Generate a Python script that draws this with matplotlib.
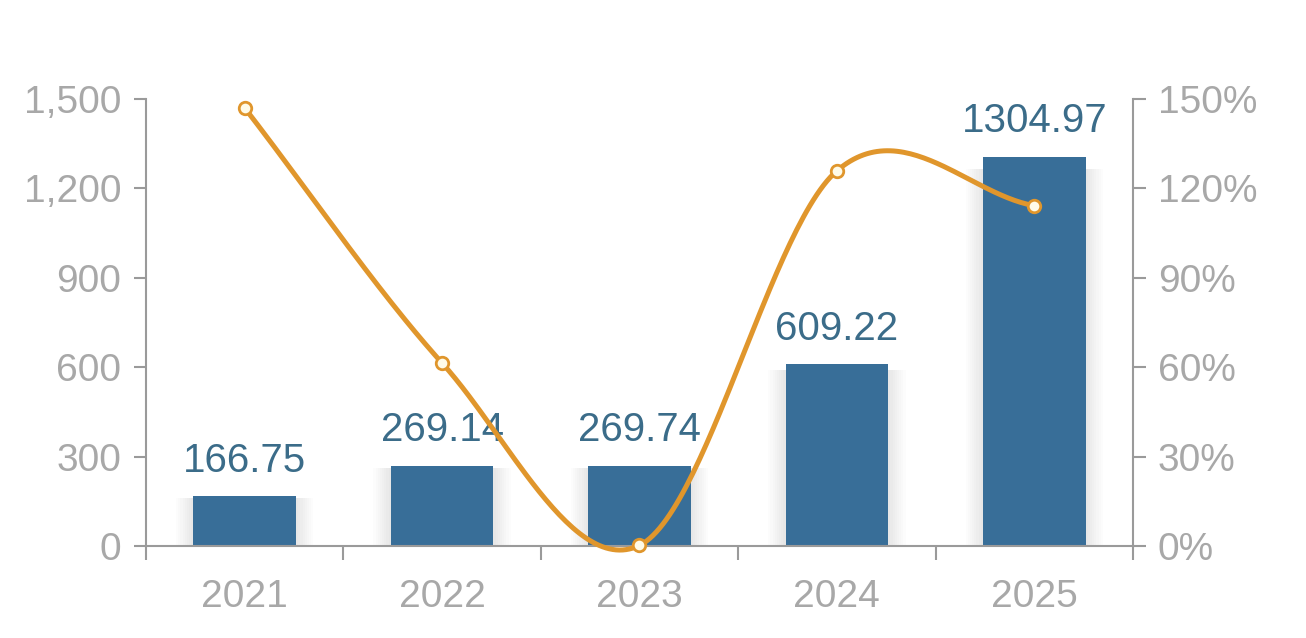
import numpy as np
import matplotlib.pyplot as plt

plt.rcParams['font.family'] = ['Liberation Sans', 'DejaVu Sans']

years = ['2021', '2022', '2023', '2024', '2025']
values = [166.75, 269.14, 269.74, 609.22, 1304.97]
growth = [147.0, 61.4, 0.2, 125.9, 114.2]

left_ticks = [0, 300, 600, 900, 1200, 1500]
right_ticks = [0, 30, 60, 90, 120, 150]

bar_color = '#386e98'
line_color = '#e0962c'
label_color = '#3b6c89'
axis_color = '#9a9a9a'
tick_text = '#a8a8a8'


def catmull_rom(xs, ys, n=60):
    # smooth curve through the points (cardinal spline, one-sided end tangents)
    xs = np.asarray(xs, float)
    ys = np.asarray(ys, float)
    m = np.zeros_like(ys)
    m[1:-1] = (ys[2:] - ys[:-2]) / (xs[2:] - xs[:-2])
    m[0] = (ys[1] - ys[0]) / (xs[1] - xs[0])
    m[-1] = (ys[-1] - ys[-2]) / (xs[-1] - xs[-2])
    out_x, out_y = [], []
    for i in range(len(xs) - 1):
        t = np.linspace(0, 1, n)
        h = xs[i + 1] - xs[i]
        h00 = 2 * t**3 - 3 * t**2 + 1
        h10 = t**3 - 2 * t**2 + t
        h01 = -2 * t**3 + 3 * t**2
        h11 = t**3 - t**2
        out_x.append(xs[i] + t * h)
        out_y.append(h00 * ys[i] + h10 * h * m[i] + h01 * ys[i + 1] + h11 * h * m[i + 1])
    return np.concatenate(out_x), np.concatenate(out_y)


fig = plt.figure(figsize=(13.06, 6.38), dpi=100)
ax = fig.add_axes([0.1118, 0.1442, 0.7557, 0.7006])
x = np.arange(len(years))

# soft shadow beside the bars
for k in range(1, 9):
    ax.bar(x, [v * 0.97 for v in values], width=0.52 + 0.022 * k,
           color='#000000', alpha=0.012, zorder=1, linewidth=0)
ax.bar(x, values, width=0.52, color=bar_color, zorder=2)

for xi, v in zip(x, values):
    ax.annotate(f'{v:.2f}', (xi, v), xytext=(0, 12), textcoords='offset points',
                ha='center', va='bottom', fontsize=29, color=label_color, zorder=3)

ax.set_xlim(-0.5, 4.5)
ax.set_ylim(0, 1500)
ax.set_yticks(left_ticks)
ax.set_yticklabels([f'{t:,}' for t in left_ticks])
ax.set_xticks(x)
ax.set_xticklabels(years)
ax.set_xticks(np.arange(-0.5, 5, 1), minor=True)
ax.tick_params(axis='x', which='major', length=0, pad=24, labelsize=28, labelcolor=tick_text)
ax.tick_params(axis='x', which='minor', length=10, width=1.5, color=axis_color, direction='out')
ax.tick_params(axis='y', length=9, width=1.5, color=axis_color, labelsize=28,
               labelcolor=tick_text, pad=9)
for s in ['top', 'right']:
    ax.spines[s].set_visible(False)
for s in ['left', 'bottom']:
    ax.spines[s].set_color(axis_color)
    ax.spines[s].set_linewidth(1.5)

ax2 = ax.twinx()
ax2.set_ylim(0, 150)
ax2.set_yticks(right_ticks)
ax2.set_yticklabels([f'{t}%' for t in right_ticks])
ax2.tick_params(axis='y', length=9, width=1.5, color=axis_color, labelsize=28,
                labelcolor=tick_text, pad=9)
for s in ['top', 'left', 'bottom']:
    ax2.spines[s].set_visible(False)
ax2.spines['right'].set_color(axis_color)
ax2.spines['right'].set_linewidth(1.5)

sx, sy = catmull_rom(x, growth)
ax2.plot(sx, sy, color=line_color, linewidth=3.6, zorder=4, clip_on=False,
         solid_capstyle='round')
ax2.plot(x, growth, 'o', markersize=9, markerfacecolor='#fffbe8',
         markeredgecolor=line_color, markeredgewidth=2, zorder=5, clip_on=False)

fig.savefig('out.png', dpi=100)
